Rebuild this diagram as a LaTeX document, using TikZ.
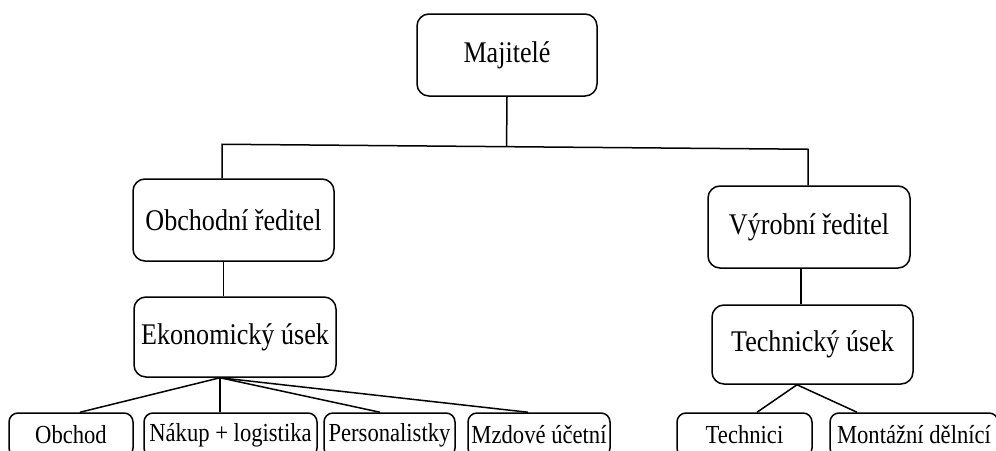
\documentclass[tikz,border=0pt]{standalone}
\usepackage{fontspec}
\setmainfont[FakeStretch=0.87]{Liberation Serif}
\usetikzlibrary{calc}

\begin{document}
\begin{tikzpicture}[x=1pt,y=-1pt,
  box/.style={draw,line width=1.5pt,rounded corners=12pt,inner sep=0pt,
    font=\fontsize{30}{34}\selectfont},
  leaf/.style={box,rounded corners=9pt,minimum height=44pt,
    font=\fontsize{26}{30}\selectfont},
  link/.style={line width=1.5pt}]
  \clip (0,0) rectangle (996,450);
  % owners and directors
  \node[box,minimum width=180pt,minimum height=82pt] (maj) at (507,55) {Majitelé};
  \node[box,minimum width=201pt,minimum height=82pt] (obr) at (233.5,220) {Obchodní ředitel};
  \node[box,minimum width=202pt,minimum height=82pt] (vyr) at (809,227) {Výrobní ředitel};
  % departments
  \node[box,minimum width=202pt,minimum height=80pt] (eko) at (235,337) {Ekonomický úsek};
  \node[box,minimum width=201pt,minimum height=79pt] (tech) at (812.5,344.5) {Technický úsek};
  % staff
  \node[leaf,minimum width=124pt] (obch) at (71,435) {Obchod};
  \node[leaf,minimum width=173pt] (nak) at (230.5,435) {Nákup + logistika};
  \node[leaf,minimum width=131pt] (pers) at (389.5,435) {Personalistky};
  \node[leaf,minimum width=142pt] (mzd) at (539,435) {Mzdové účetní};
  \node[leaf,minimum width=135pt] (tec) at (744.5,435) {Technici};
  \node[leaf,minimum width=168pt] (mont) at (914,435) {Montážní dělnící};

  % upper branch
  \coordinate (obrtop) at ($(obr.north)+(-11.5,0)$);
  \coordinate (vyrtop) at ($(vyr.north)+(-1,0)$);
  \coordinate (hl) at ($(obrtop)+(0,-34)$);
  \coordinate (hr) at ($(vyrtop)+(0,-36)$);
  \draw[link] (obrtop) -- (hl) -- (hr) -- (vyrtop);
  \draw[link] (maj.south) -- ($(hl)!(maj.south)!(hr)$);

  % director to department
  \coordinate (obrlow) at ($(obr.south)+(-10,0)$);
  \draw[link] (obrlow) -- (obrlow |- eko.north);
  \coordinate (vyrlow) at ($(vyr.south)+(-8,0)$);
  \draw[link] (vyrlow) -- (vyrlow |- tech.north);

  % department to staff
  \coordinate (ekofan) at ($(eko.south)+(-15,0)$);
  \foreach \nd/\dx in {obch/9,nak/-10.5,pers/-9.5,mzd/-11}
    \draw[link] (ekofan) -- ($(\nd.north)+(\dx,0)$);
  \coordinate (techfan) at ($(tech.south)+(-15.5,0)$);
  \foreach \nd/\dx in {tec/12.5,mont/-57}
    \draw[link] (techfan) -- ($(\nd.north)+(\dx,0)$);
\end{tikzpicture}
\end{document}
